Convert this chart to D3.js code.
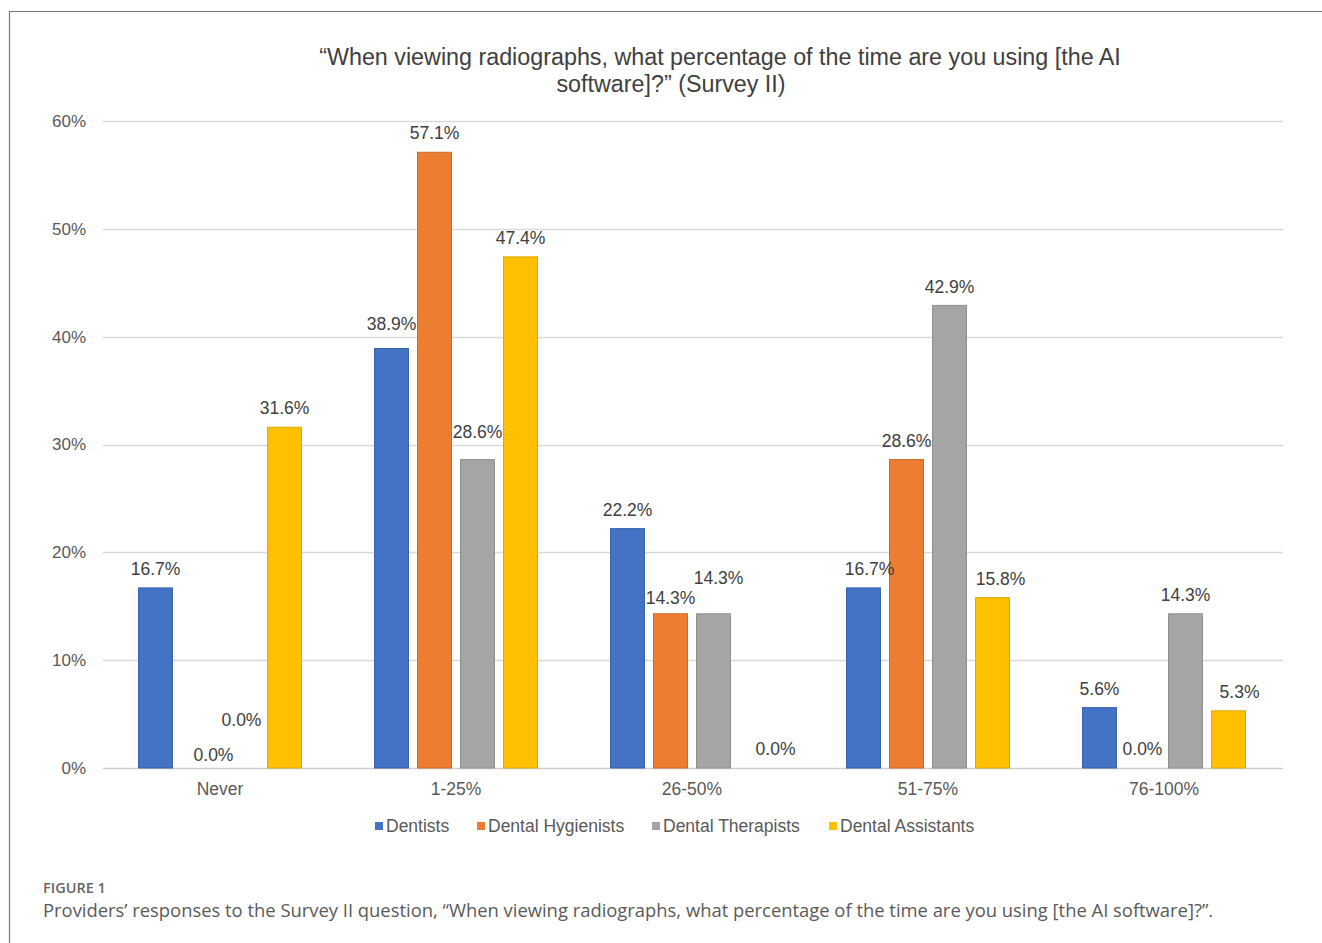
<!DOCTYPE html>
<html>
<head>
<meta charset="utf-8">
<script src="https://cdn.jsdelivr.net/npm/d3@7"></script>
<style>
  body { margin: 0; background: #fff; }
  svg { display: block; }
</style>
</head>
<body>
<svg id="chart"></svg>
<script>
// data
const categories = ["Never", "1-25%", "26-50%", "51-75%", "76-100%"];
const seriesNames = ["Dentists", "Dental Hygienists", "Dental Therapists", "Dental Assistants"];
const dentists = [16.7, 38.9, 22.2, 16.7, 5.6];
const hygienists = [0.0, 57.1, 14.3, 28.6, 0.0];
const therapists = [0.0, 28.6, 14.3, 42.9, 14.3];
const assistants = [31.6, 47.4, 0.0, 15.8, 5.3];
const yTicks = [0, 10, 20, 30, 40, 50, 60];

const colors = ["#4472C4", "#ED7D31", "#A5A5A5", "#FFC000"];
const strokes = ["#3A62AA", "#C96A29", "#8F8F8F", "#E0A900"];

// label nudges (dx, dy) so labels sit where the original placed them
const labelNudge = {
  "Never|Dental Hygienists": [15, 6],
  "Never|Dental Therapists": [0, -29],
  "1-25%|Dentists": [0, -6],
  "1-25%|Dental Therapists": [0, -9],
  "26-50%|Dental Hygienists": [0, 3],
  "26-50%|Dental Therapists": [5, -17],
  "26-50%|Dental Assistants": [19, 0],
  "51-75%|Dentists": [6, 0],
  "51-75%|Dental Assistants": [8, 0],
  "76-100%|Dental Assistants": [11, 0]
};

const seriesValues = [dentists, hygienists, therapists, assistants];
const rows = [];
categories.forEach((c, i) => {
  seriesNames.forEach((s, j) => {
    rows.push({ cat: c, series: s, value: seriesValues[j][i], idx: j });
  });
});

const W = 1322, H = 943;
const svg = d3.select("#chart").attr("width", W).attr("height", H);
const font = "'Liberation Sans', Arial, sans-serif";
const textColor = "#404040";

// frame (open on right and bottom like the cropped original)
svg.append("path")
  .attr("d", `M9.5,${H} V11.5 H${W}`)
  .attr("fill", "none")
  .attr("stroke", "#777")
  .attr("stroke-width", 1.2);

const x0 = d3.scaleBand().domain(categories).range([102, 1282]).padding(0);
const x1 = d3.scaleBand().domain(seriesNames).range([36.5, 199.5]).paddingInner(0.21);
const y = d3.scaleLinear().domain([0, 60]).range([768, 121]);

// gridlines
svg.append("g")
  .selectAll("line")
  .data(yTicks)
  .enter()
  .append("line")
  .attr("x1", 103)
  .attr("x2", 1283)
  .attr("y1", d => Math.round(y(d)) + 0.5)
  .attr("y2", d => Math.round(y(d)) + 0.5)
  .attr("stroke", d => d === 0 ? "#cfcfcf" : "#d9d9d9")
  .attr("stroke-width", 1.3);

// y tick labels
svg.append("g")
  .selectAll("text")
  .data(yTicks)
  .enter()
  .append("text")
  .attr("x", 86)
  .attr("y", d => y(d))
  .attr("dy", "0.35em")
  .attr("text-anchor", "end")
  .attr("font-family", font)
  .attr("font-size", 17)
  .attr("fill", "#595959")
  .text(d => d + "%");

// category labels
svg.append("g")
  .selectAll("text")
  .data(categories)
  .enter()
  .append("text")
  .attr("x", d => x0(d) + x0.bandwidth() / 2)
  .attr("y", 789)
  .attr("dy", "0.35em")
  .attr("text-anchor", "middle")
  .attr("font-family", font)
  .attr("font-size", 17.5)
  .attr("fill", "#595959")
  .text(d => d);

// bars
svg.append("g")
  .selectAll("rect")
  .data(rows)
  .enter()
  .append("rect")
  .attr("x", d => x0(d.cat) + x1(d.series))
  .attr("y", d => y(d.value))
  .attr("width", x1.bandwidth())
  .attr("height", d => y(0) - y(d.value))
  .attr("fill", d => colors[d.idx])
  .attr("stroke", d => d.value > 0 ? strokes[d.idx] : "none")
  .attr("stroke-width", 1);

// value labels
svg.append("g")
  .selectAll("text")
  .data(rows)
  .enter()
  .append("text")
  .attr("x", d => {
    const n = labelNudge[d.cat + "|" + d.series] || [0, 0];
    return x0(d.cat) + x1(d.series) + x1.bandwidth() / 2 + n[0];
  })
  .attr("y", d => {
    const n = labelNudge[d.cat + "|" + d.series] || [0, 0];
    return y(d.value) - 19 + n[1];
  })
  .attr("dy", "0.35em")
  .attr("text-anchor", "middle")
  .attr("font-family", font)
  .attr("font-size", 17.5)
  .attr("fill", textColor)
  .text(d => d.value.toFixed(1) + "%");

// title
const title = svg.append("text")
  .attr("font-family", font)
  .attr("font-size", 23.3)
  .attr("fill", textColor)
  .attr("text-anchor", "middle");
title.append("tspan").attr("x", 720).attr("y", 65)
  .text("\u201CWhen viewing radiographs, what percentage of the time are you using [the AI");
title.append("tspan").attr("x", 671).attr("y", 92)
  .text("software]?\u201D (Survey II)");

// legend
const legendX = [375, 477, 652, 829];
const legend = svg.append("g")
  .selectAll("g")
  .data(seriesNames)
  .enter()
  .append("g")
  .attr("transform", (d, i) => `translate(${legendX[i]},826)`);

legend.append("rect")
  .attr("x", 0)
  .attr("y", -4)
  .attr("width", 8)
  .attr("height", 8)
  .attr("fill", (d, i) => colors[i]);

legend.append("text")
  .attr("x", 11)
  .attr("y", 0)
  .attr("dy", "0.35em")
  .attr("font-family", font)
  .attr("font-size", 17.5)
  .attr("fill", "#595959")
  .text(d => d);

// caption
svg.append("text")
  .attr("x", 43)
  .attr("y", 893)
  .attr("font-family", "'Open Sans', 'Noto Sans', sans-serif")
  .attr("font-size", 14.5)
  .attr("font-weight", 600)
  .attr("fill", "#666")
  .text("FIGURE 1");

svg.append("text")
  .attr("x", 43)
  .attr("y", 917)
  .attr("font-family", "'Open Sans', 'Noto Sans', sans-serif")
  .attr("font-size", 18.4)
  .attr("fill", "#5a5a5a")
  .text("Providers\u2019 responses to the Survey II question, \u201CWhen viewing radiographs, what percentage of the time are you using [the AI software]?\u201D.");
</script>
</body>
</html>
